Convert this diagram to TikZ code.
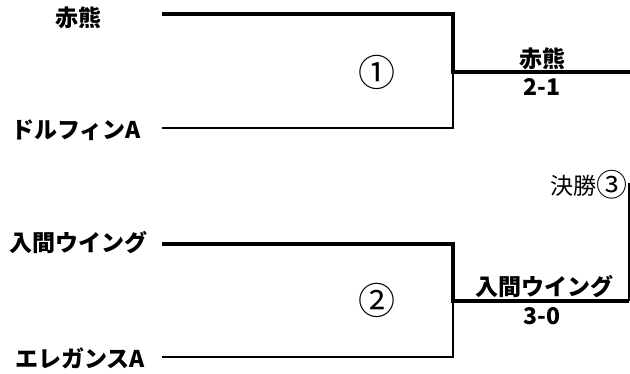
\documentclass[tikz,border=0pt]{standalone}
\usepackage{fontspec}
\setmainfont{Noto Sans CJK JP}
\begin{document}
\begin{tikzpicture}[x=1pt,y=-1pt,
  lbl/.style={inner sep=0pt,font=\fontsize{23}{25}\selectfont\bfseries},
  plain/.style={inner sep=0pt,font=\fontsize{23}{25}\selectfont},
  circ/.style={inner sep=0pt,font=\fontsize{37}{39}\selectfont},
  thickline/.style={line width=3.5pt,line join=miter},
  thinline/.style={line width=2.2pt,line join=miter},
  hairline/.style={line width=1.5pt}]
\useasboundingbox (0,0) rectangle (630,374);
% team labels
\node[lbl] (t1) at (79,18) {赤熊};
\node[lbl,anchor=east] (t2) at (141,130) {ドルフィンA};
\node[lbl,anchor=east] (t3) at (148,243) {入間ウイング};
\node[lbl,anchor=east] (t4) at (145,358) {エレガンスA};
% match numbers
\node[circ] (m1) at (377,72) {①};
\node[circ] (m2) at (377,300) {②};
% results
\node[lbl] (w1) at (542,59) {赤熊};
\node[lbl] (s1) at (542,87) {2-1};
\node[lbl] (w2) at (544,287) {入間ウイング};
\node[lbl] (s2) at (542,316) {3-0};
\node[plain,anchor=east] (f) at (628,185) {決勝\raisebox{-2pt}{\fontsize{31}{33}\selectfont ③}};
% bracket coordinates
\coordinate (a1) at (162,14);
\coordinate (a2) at (453,14);
\coordinate (aj) at (453,72);
\coordinate (a3) at (162,128);
\coordinate (a4) at (453,128);
\coordinate (ao) at (630,72);
\coordinate (b1) at (162,244);
\coordinate (b2) at (453,244);
\coordinate (bj) at (453,301);
\coordinate (b3) at (162,357);
\coordinate (b4) at (453,357);
\coordinate (bo) at (629,301);
\coordinate (bt) at (629,183);
% bracket 1
\draw[thickline] (a1) -- (a2) -- (aj) -- (ao);
\draw[thinline] (a3) -- (a4) -- (aj);
% bracket 2
\draw[thickline] (b1) -- (b2) -- (bj) -- (bo);
\draw[thinline] (b3) -- (b4) -- (bj);
\draw[hairline] (bo) -- (bt);
\end{tikzpicture}
\end{document}
